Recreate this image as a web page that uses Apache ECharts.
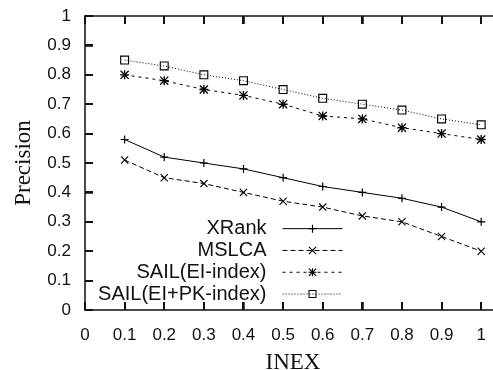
<!DOCTYPE html>
<html>
<head>
<meta charset="utf-8">
<script src="https://cdn.jsdelivr.net/npm/echarts@6/dist/echarts.min.js"></script>
<style>
  html, body { margin: 0; padding: 0; background: #fff; }
  #chart { width: 493px; height: 370px; }
</style>
</head>
<body>
<div id="chart"></div>
<script>
// values
const xValues = [0.1, 0.2, 0.3, 0.4, 0.5, 0.6, 0.7, 0.8, 0.9, 1.0];
const xrank = [0.58, 0.52, 0.50, 0.48, 0.45, 0.42, 0.40, 0.38, 0.35, 0.30];
const mslca = [0.51, 0.45, 0.43, 0.40, 0.37, 0.35, 0.32, 0.30, 0.25, 0.20];
const sailEi = [0.80, 0.78, 0.75, 0.73, 0.70, 0.66, 0.65, 0.62, 0.60, 0.58];
const sailEiPk = [0.85, 0.83, 0.80, 0.78, 0.75, 0.72, 0.70, 0.68, 0.65, 0.63];
const seriesNames = ['XRank', 'MSLCA', 'SAIL(EI-index)', 'SAIL(EI+PK-index)'];
const xTicks = [0, 0.1, 0.2, 0.3, 0.4, 0.5, 0.6, 0.7, 0.8, 0.9, 1];
const yTicks = [0, 0.1, 0.2, 0.3, 0.4, 0.5, 0.6, 0.7, 0.8, 0.9, 1];

// gnuplot-like point glyphs as filled paths
const PLUS = 'path://M3.4,0H4.6V8H3.4Z M0,3.4H8V4.6H0Z';
const CROSS = 'path://M0,0.8L0.8,0L8,7.2L7.2,8Z M7.2,0L8,0.8L0.8,8L0,7.2Z';
const STAR = 'path://M3.4,0H4.6V8H3.4Z M0,3.4H8V4.6H0Z M0,0.8L0.8,0L8,7.2L7.2,8Z M7.2,0L8,0.8L0.8,8L0,7.2Z';
const BOX = 'path://M0,0H8V8H0Z M1,1V7H7V1Z';

const sansFont = 'Liberation Sans';
const serifFont = 'Liberation Serif';
const lineCol = '#111';
const X_MAX = 1.05;
const TICK_LEN = 8;

function pairs(ys) {
    return xValues.map((x, i) => [x, ys[i]]);
}

function makeSeries(name, ys, symbol, size, dash) {
    return {
        name: name,
        type: 'line',
        xAxisIndex: 0,
        yAxisIndex: 0,
        data: pairs(ys),
        symbol: symbol,
        symbolSize: size,
        showAllSymbol: true,
        itemStyle: { color: '#000' },
        lineStyle: { color: '#000', width: 1, type: dash },
        emphasis: { disabled: true },
        animation: false
    };
}

// inward ticks drawn through the axes' scales
function tickRect(x, y, w, h) {
    return { type: 'rect', shape: { x: x, y: y, width: w, height: h }, style: { fill: '#111' } };
}

function xTickItem(params, api) {
    const b = api.coord([api.value(0), 0]);
    const t = api.coord([api.value(0), 1]);
    const x = Math.round(b[0]) - 1;
    return { type: 'group', children: [
        tickRect(x, b[1] - TICK_LEN, 2, TICK_LEN),
        tickRect(x, t[1], 2, TICK_LEN)
    ] };
}

function yTickItem(params, api) {
    const l = api.coord([0, api.value(1)]);
    const r = api.coord([X_MAX, api.value(1)]);
    const y = Math.round(l[1]) - 1;
    return { type: 'group', children: [
        tickRect(l[0], y, TICK_LEN, 2),
        tickRect(r[0] - TICK_LEN, y, TICK_LEN, 2)
    ] };
}

function tickSeries(data, renderItem) {
    return {
        type: 'custom',
        coordinateSystem: 'cartesian2d',
        xAxisIndex: 0,
        yAxisIndex: 0,
        data: data,
        encode: { x: 0, y: 1 },
        renderItem: renderItem,
        clip: false,
        silent: true,
        animation: false,
        z: 5
    };
}

const axisTickStyle = { show: true, inside: true, length: TICK_LEN, lineStyle: { color: '#111', width: 1.5 } };

function borderAxis(pos, max) {
    return {
        type: 'value', min: 0, max: max, interval: 0.1, position: pos,
        axisLine: { show: true, onZero: false, lineStyle: { color: lineCol, width: 1.5 } },
        axisTick: axisTickStyle,
        axisLabel: { show: false },
        splitLine: { show: false }
    };
}

const chart = echarts.init(document.getElementById('chart'));
chart.setOption({
    animation: false,
    grid: {
        left: 85, top: 16, width: 416, height: 294,
        containLabel: false,
        outerBounds: { left: -200, top: -200, right: -200, bottom: -200 }
    },
    legend: {
        data: seriesNames,
        orient: 'vertical',
        align: 'right',
        right: 150,
        top: 218,
        padding: 0,
        itemGap: 0.5,
        itemWidth: 60,
        itemHeight: 10,
        selectedMode: false,
        lineStyle: { width: 1 },
        itemStyle: { borderWidth: 0 },
        textStyle: {
            fontFamily: sansFont,
            fontSize: 20,
            color: '#111',
            lineHeight: 21.3,
            padding: [0, 11, 0, 0]
        }
    },
    xAxis: [
        {
            type: 'value', min: 0, max: X_MAX, interval: 0.1,
            name: 'INEX', nameLocation: 'middle', nameGap: 41,
            nameTextStyle: { fontFamily: serifFont, fontSize: 23, color: '#111' },
            axisLine: { show: true, onZero: false, lineStyle: { color: lineCol, width: 1.5 } },
            axisTick: axisTickStyle,
            axisLabel: { showMaxLabel: false, margin: 17, fontFamily: sansFont, fontSize: 17, color: '#111' },
            splitLine: { show: false }
        },
        borderAxis('top', X_MAX)
    ],
    yAxis: [
        {
            type: 'value', min: 0, max: 1, interval: 0.1,
            name: 'Precision', nameLocation: 'middle', nameGap: 50,
            nameTextStyle: { fontFamily: serifFont, fontSize: 23, color: '#111' },
            axisLine: { show: true, onZero: false, lineStyle: { color: lineCol, width: 1.5 } },
            axisTick: axisTickStyle,
            axisLabel: { margin: 14, fontFamily: sansFont, fontSize: 17, color: '#111' },
            splitLine: { show: false }
        },
        borderAxis('right', 1)
    ],
    series: [
        makeSeries(seriesNames[0], xrank, PLUS, 8, 'solid'),
        makeSeries(seriesNames[1], mslca, CROSS, 8, [5, 3]),
        makeSeries(seriesNames[2], sailEi, STAR, 9, [3, 4]),
        makeSeries(seriesNames[3], sailEiPk, BOX, 9, [1, 2]),
        tickSeries(xTicks.map(v => [v, 0]), xTickItem),
        tickSeries(yTicks.map(v => [0, v]), yTickItem)
    ]
});
</script>
</body>
</html>
